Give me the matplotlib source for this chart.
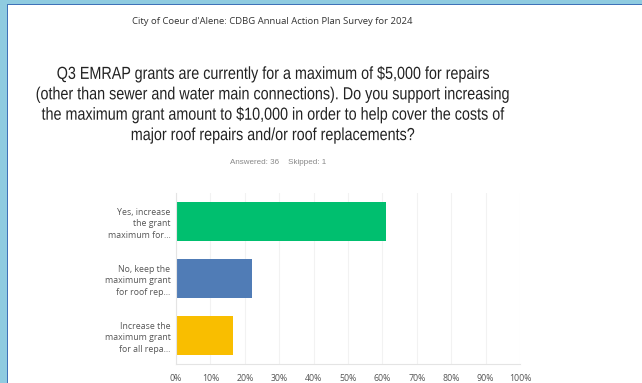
import numpy as np
import matplotlib.pyplot as plt
from matplotlib.patches import Rectangle
from matplotlib import patheffects
from matplotlib.transforms import Affine2D

# survey responses (percent of 36 answered)
choices = ['Yes, increase\nthe grant\nmaximum for...',
           'No, keep the\nmaximum grant\nfor roof rep...',
           'Increase the\nmaximum grant\nfor all repa...']
percents = [61.11, 22.22, 16.67]
bar_colors = ['#00bf6f', '#507cb6', '#f9be00']
xticks = np.arange(0, 101, 10)
xtick_labels = [f'{v}%' for v in xticks]


class Squeeze(patheffects.AbstractPathEffect):
    """Narrow the glyphs horizontally around a fixed x (display pixels)."""

    def __init__(self, sx, cx):
        super().__init__()
        self.sx = sx
        self.cx = cx

    def draw_path(self, renderer, gc, tpath, affine, rgbFace=None):
        t = affine + Affine2D().translate(-self.cx, 0).scale(self.sx, 1).translate(self.cx, 0)
        renderer.draw_path(gc, tpath, t, rgbFace)


fig = plt.figure(figsize=(6.42, 3.83), dpi=100)
fig.patch.set_facecolor('#8fcbe0')
# white page with a dark blue rule on top and left
fig.patches.append(Rectangle((8 / 642, 0), 1, 1 - 5 / 383, transform=fig.transFigure,
                             facecolor='white', edgecolor='none', zorder=0))
fig.patches.append(Rectangle((6.5 / 642, 0), 1.8 / 642, 1 - 3.5 / 383, transform=fig.transFigure,
                             facecolor='#3f72b8', edgecolor='none', zorder=1))
fig.patches.append(Rectangle((6.5 / 642, 1 - 5.3 / 383), 1, 1.8 / 383, transform=fig.transFigure,
                             facecolor='#3f72b8', edgecolor='none', zorder=1))

fig.text(272 / 642, 1 - 21 / 383, "City of Coeur d'Alene: CDBG Annual Action Plan Survey for 2024",
         ha='center', va='center', fontsize=6.8, family='Open Sans', color='#333333')
fig.text(273 / 642, 1 - 105 / 383,
         'Q3 EMRAP grants are currently for a maximum of $5,000 for repairs\n'
         '(other than sewer and water main connections). Do you support increasing\n'
         'the maximum grant amount to $10,000 in order to help cover the costs of\n'
         'major roof repairs and/or roof replacements?',
         ha='center', va='center', fontsize=12.6, family='Liberation Sans',
         color='#222222', linespacing=1.45,
         path_effects=[Squeeze(0.82, 273)])
fig.text(278 / 642, 1 - 163 / 383, 'Answered: 36    Skipped: 1', ha='center', va='center',
         fontsize=5.8, family='Liberation Sans', color='#888888')

ax = fig.add_axes([176 / 642, 1 - 364 / 383, 344 / 642, 171 / 383], zorder=3)
ax.set_facecolor('none')
y = np.arange(len(choices))
ax.barh(y, percents, height=0.67, color=bar_colors, zorder=2)
ax.set_xlim(0, 100)
ax.set_ylim(len(choices) - 0.5, -0.5)
ax.set_yticks(y)
ax.set_yticklabels(choices, fontsize=6.3, family='Open Sans', color='#555555', linespacing=1.4)
ax.set_xticks(xticks)
ax.set_xticklabels(xtick_labels, fontsize=6.3, family='Open Sans', color='#555555')
ax.tick_params(axis='both', length=0)
ax.tick_params(axis='x', pad=7)
ax.tick_params(axis='y', pad=4)
ax.grid(axis='x', color='#f2f2f2', linewidth=0.8, zorder=0)
for side in ['top', 'right']:
    ax.spines[side].set_visible(False)
ax.spines['left'].set_color('#e4e4e4')
ax.spines['bottom'].set_color('#e4e4e4')

fig.savefig('out.png', dpi=100, facecolor=fig.get_facecolor())
